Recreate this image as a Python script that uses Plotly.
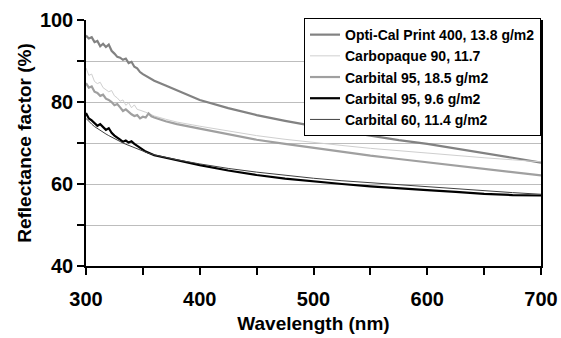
import plotly.graph_objects as go

wavelength = [300, 302.5, 305, 307.5, 310, 312.5, 315, 317.5, 320, 322.5, 325, 327.5,
              330, 332.5, 335, 337.5, 340, 342.5, 345, 347.5, 350, 352.5, 355, 357.5,
              360, 370, 380, 400, 425, 450, 475, 500, 525, 550, 575, 600, 625, 650, 675, 700]

opti_cal = [96.2, 95.5, 95.8, 94.6, 94.9, 93.6, 94.2, 93.4, 94.0, 92.5, 91.8, 91.0,
            90.8, 90.3, 90.6, 89.5, 89.8, 88.6, 88.2, 87.3, 86.8, 86.4, 86.0, 85.6,
            85.2, 84.0, 82.8, 80.5, 78.5, 76.8, 75.4, 74.1, 72.9, 71.8, 70.7, 69.8, 68.7, 67.6, 66.4, 65.2]

carbopaque_90 = [88.3, 86.5, 86.8, 85.0, 84.5, 84.8, 83.5, 83.0, 82.5, 82.8, 81.5, 81.0,
                 80.2, 80.5, 79.2, 79.8, 78.6, 79.3, 78.2, 78.0, 77.8, 77.5, 77.2, 76.9,
                 76.6, 75.8, 75.1, 74.1, 72.9, 71.8, 70.9, 70.1, 69.4, 68.7, 68.1, 67.5, 66.9, 66.4, 65.9, 65.4]

carbital95_185 = [84.6, 83.5, 83.8, 82.5, 82.2, 81.5, 81.8, 80.8, 80.5, 80.0, 79.2, 79.5,
                  78.7, 77.8, 78.2, 77.5, 77.0, 76.6, 76.8, 76.0, 76.4, 76.2, 77.2, 76.5,
                  76.2, 75.3, 74.6, 73.5, 72.1, 70.8, 69.8, 68.8, 67.8, 66.9, 66.1, 65.3, 64.5, 63.7, 62.9, 62.1]

carbital95_96 = [77.3, 76.0, 75.5, 74.8, 74.2, 74.6, 73.8, 73.2, 73.6, 72.5, 71.8, 71.2,
                 70.8, 70.3, 70.6, 70.1, 70.4, 69.8, 69.3, 68.8, 68.4, 67.9, 67.6, 67.3,
                 67.0, 66.4, 65.8, 64.6, 63.3, 62.2, 61.3, 60.6, 60.0, 59.4, 58.9, 58.5, 58.1, 57.6, 57.3, 57.2]

carbital60_114 = [76.0, 75.2, 74.6, 74.0, 73.5, 73.1, 72.6, 72.2, 71.8, 71.4, 71.0, 70.6,
                  70.3, 70.0, 69.7, 69.4, 69.1, 68.8, 68.5, 68.2, 67.9, 67.7, 67.5, 67.3,
                  67.1, 66.5, 65.9, 64.9, 63.8, 62.9, 62.1, 61.4, 60.8, 60.3, 59.8, 59.4, 58.9, 58.4, 57.9, 57.5]

series_names = ["Opti-Cal Print 400, 13.8 g/m2", "Carbopaque 90, 11.7",
                "Carbital 95, 18.5 g/m2", "Carbital 95, 9.6 g/m2", "Carbital 60, 11.4 g/m2"]

x_tickvals = [300, 350, 400, 450, 500, 550, 600, 650, 700]
x_ticktext = ["300", "", "400", "", "500", "", "600", "", "700"]
y_tickvals = [40, 50, 60, 70, 80, 90, 100]
y_ticktext = ["40", "", "60", "", "80", "", "100"]

styles = [("#828282", 2.2), ("#cfcfcf", 1.0), ("#a0a0a0", 2.2), ("#000000", 2.2), ("#404040", 1.0)]
data = [opti_cal, carbopaque_90, carbital95_185, carbital95_96, carbital60_114]

fig = go.Figure()
for name, ys, (col, w) in zip(series_names, data, styles):
    fig.add_trace(go.Scatter(x=wavelength, y=ys, mode="lines", name=name,
                             line=dict(color=col, width=w)))

font_fam = "Liberation Sans, Arial, sans-serif"
fig.update_layout(
    width=561, height=338,
    margin=dict(l=86, r=20, t=20, b=72, autoexpand=False),
    paper_bgcolor="white", plot_bgcolor="white",
    font=dict(family=font_fam, color="black", weight="bold"),
    showlegend=True,
    legend=dict(x=1.0, y=1.008, xanchor="right", yanchor="top",
                bgcolor="white", bordercolor="black", borderwidth=1,
                font=dict(size=14, family=font_fam, weight="bold"),
                tracegroupgap=0, itemwidth=30),
    xaxis=dict(range=[300, 700], tickvals=x_tickvals, ticktext=x_ticktext,
               ticks="outside", ticklen=7, tickcolor="black", tickwidth=1.5,
               showline=True, linecolor="black", linewidth=1.5,
               showgrid=False, zeroline=False, automargin=False,
               ticklabelstandoff=7,
               tickfont=dict(size=20, weight="bold"),
               title=dict(text="Wavelength (nm)", font=dict(size=19, weight="bold"), standoff=8)),
    yaxis=dict(range=[40, 100], tickvals=y_tickvals, ticktext=y_ticktext,
               ticks="outside", ticklen=7, tickcolor="black", tickwidth=1.5,
               showline=True, linecolor="black", linewidth=1.5, mirror=True,
               showgrid=True, gridcolor="#bdbdbd", gridwidth=1, zeroline=False,
               automargin=False,
               tickfont=dict(size=20, weight="bold"),
               title=dict(text="Reflectance factor (%)", font=dict(size=19, weight="bold"), standoff=3)),
)

fig.write_html("out.html",
               config={"displayModeBar": False},
               post_script="document.body.style.margin='0px';document.body.style.overflow='hidden';")
